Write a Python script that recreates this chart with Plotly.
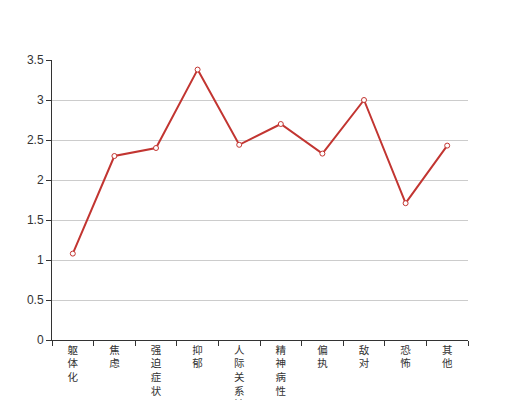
import plotly.graph_objects as go

categories = ["躯体化", "焦虑", "强迫症状", "抑郁", "人际关系敏感", "精神病性", "偏执", "敌对", "恐怖", "其他"]
values = [1.08, 2.30, 2.40, 3.38, 2.44, 2.70, 2.33, 3.00, 1.71, 2.43]
y_ticks = [0, 0.5, 1, 1.5, 2, 2.5, 3, 3.5]
y_tick_labels = ["0", "0.5", "1", "1.5", "2", "2.5", "3", "3.5"]

tick_text = ["<br>".join(list(c)) for c in categories]

fig = go.Figure()
fig.add_trace(go.Scatter(
    x=categories, y=values, mode="lines+markers",
    line=dict(color="#c23531", width=2),
    marker=dict(symbol="circle", size=5, color="white",
                line=dict(color="#c23531", width=1)),
    hoverinfo="x+y", showlegend=False,
))

fig.update_layout(
    width=520, height=400,
    margin=dict(l=44, r=60, t=52, b=68),
    paper_bgcolor="white", plot_bgcolor="white",
    font=dict(family="Liberation Sans, Noto Sans CJK SC, sans-serif", size=12, color="#333"),
    xaxis=dict(
        type="category", tickmode="array", tickvals=categories, ticktext=tick_text,
        tickson="boundaries", ticks="outside", ticklen=5, tickcolor="#333",
        showline=True, linecolor="#333", linewidth=1, showgrid=False,
        range=[-0.5, 9.5], tickangle=0, zeroline=False, automargin=False,
        tickfont=dict(size=10.5, color="#333"),
    ),
    yaxis=dict(
        range=[0, 3.5], tickmode="array", tickvals=y_ticks, ticktext=y_tick_labels,
        ticks="outside", ticklen=5, tickcolor="#333",
        showline=True, linecolor="#333", linewidth=1, automargin=False,
        showgrid=True, gridcolor="#ccc", gridwidth=1, zeroline=False,
        tickfont=dict(size=12, color="#333"),
    ),
)

fig.write_html("out.html")
